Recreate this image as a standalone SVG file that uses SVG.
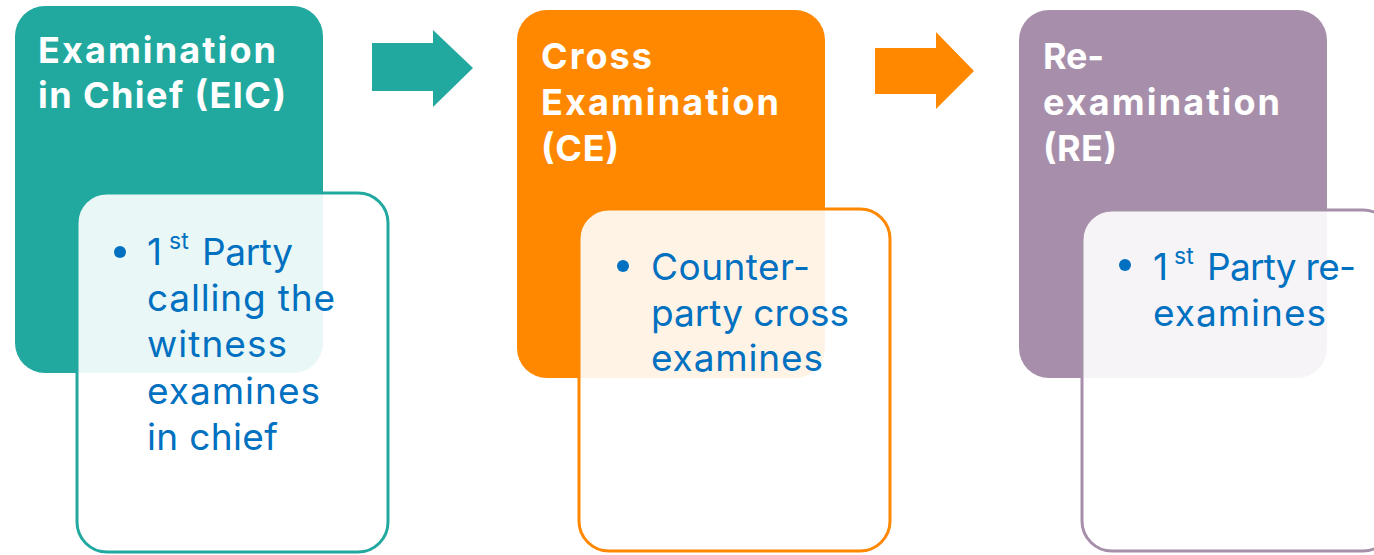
<svg xmlns="http://www.w3.org/2000/svg" width="1374" height="555" viewBox="0 0 1374 555">
<style>
.head{font-family:Inter,"Open Sans","Liberation Sans",sans-serif;font-weight:bold;font-size:36px;fill:#ffffff}
.body{font-family:Inter,"Open Sans","Liberation Sans",sans-serif;font-size:37px;fill:#0070C0}
.sup{font-family:Inter,"Open Sans","Liberation Sans",sans-serif;font-size:23px;fill:#0070C0}
.card{fill:#ffffff;fill-opacity:0.9;stroke-width:3}
.bul{fill:#0070C0}
</style>
<rect width="1374" height="555" fill="#ffffff"/>
<g id="connectors">
<polygon points="372,43 433,43 433,30 473,68 433,107 433,91 372,91" fill="#22A99F"/>
<polygon points="875,48 936,48 936,32 974,71 936,109 936,94 875,94" fill="#FF8800"/>
</g>
<g id="node-eic">
<rect x="15" y="6" width="308" height="367" rx="30" fill="#22A99F"/>
<text class="head" x="38" y="63" textLength="238" lengthAdjust="spacing">Examination</text>
<text class="head" x="38" y="108" textLength="248" lengthAdjust="spacing">in Chief (EIC)</text>
<rect class="card" x="77" y="193" width="311" height="359" rx="30" stroke="#22A99F"/>
<circle class="bul" cx="120" cy="252" r="6"/>
<text class="body" x="147" y="265">1</text>
<text class="sup" x="169" y="249">st</text>
<text class="body" x="202" y="265" textLength="91" lengthAdjust="spacing">Party</text>
<text class="body" x="147" y="311" textLength="188" lengthAdjust="spacing">calling the</text>
<text class="body" x="147" y="357" textLength="140" lengthAdjust="spacing">witness</text>
<text class="body" x="147" y="404" textLength="173" lengthAdjust="spacing">examines</text>
<text class="body" x="147" y="450" textLength="131" lengthAdjust="spacing">in chief</text>
</g>
<g id="node-ce">
<rect x="517" y="10" width="308" height="368" rx="30" fill="#FF8800"/>
<text class="head" x="541" y="69" textLength="111" lengthAdjust="spacing">Cross</text>
<text class="head" x="541" y="115" textLength="238" lengthAdjust="spacing">Examination</text>
<text class="head" x="541" y="161" textLength="78" lengthAdjust="spacing">(CE)</text>
<rect class="card" x="579" y="209" width="311" height="342" rx="30" stroke="#FF8800"/>
<circle class="bul" cx="623" cy="266" r="6"/>
<text class="body" x="651" y="280" textLength="159" lengthAdjust="spacing">Counter-</text>
<text class="body" x="651" y="326" textLength="198" lengthAdjust="spacing">party cross</text>
<text class="body" x="651" y="371" textLength="172" lengthAdjust="spacing">examines</text>
</g>
<g id="node-re">
<rect x="1019" y="10" width="308" height="368" rx="30" fill="#A78FAB"/>
<text class="head" x="1043" y="69" textLength="61" lengthAdjust="spacing">Re-</text>
<text class="head" x="1043" y="115" textLength="237" lengthAdjust="spacing">examination</text>
<text class="head" x="1043" y="161" textLength="74" lengthAdjust="spacing">(RE)</text>
<rect class="card" x="1082" y="210" width="311" height="341" rx="30" stroke="#A78FAB"/>
<circle class="bul" cx="1125" cy="265" r="6"/>
<text class="body" x="1153" y="280">1</text>
<text class="sup" x="1174" y="264">st</text>
<text class="body" x="1207" y="280" textLength="149" lengthAdjust="spacing">Party re-</text>
<text class="body" x="1153" y="326" textLength="173" lengthAdjust="spacing">examines</text>
</g>
</svg>
